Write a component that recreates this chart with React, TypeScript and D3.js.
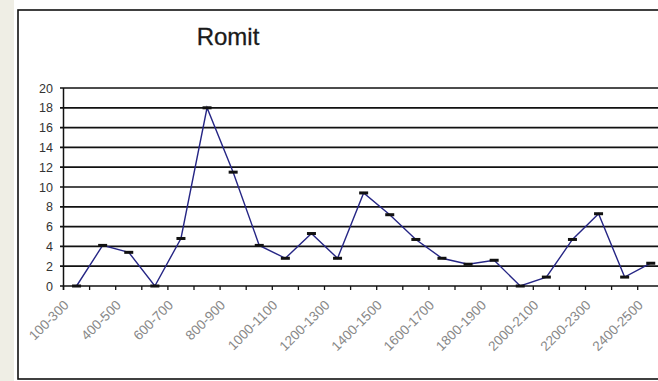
import React from "react";
import * as d3 from "d3";

const categories = [
  "100-300", "300-400", "400-500", "500-600", "600-700", "700-800", "800-900",
  "900-1000", "1000-1100", "1100-1200", "1200-1300", "1300-1400", "1400-1500",
  "1500-1600", "1600-1700", "1700-1800", "1800-1900", "1900-2000", "2000-2100",
  "2100-2200", "2200-2300", "2300-2400", "2400-2500",
];
const values = [0, 4.1, 3.4, 0, 4.8, 18, 11.5, 4.1, 2.8, 5.3, 2.8, 9.4, 7.2, 4.7, 2.8, 2.2, 2.6, 0, 0.9, 4.7, 7.3, 0.9, 2.3];
const yTicks = [0, 2, 4, 6, 8, 10, 12, 14, 16, 18, 20];
const title = "Romit";

const W = 658;
const H = 381;

export default function App() {
  const x = d3.scaleBand<string>().domain(categories).range([63.5, 63.5 + 26.1 * categories.length]);
  const y = d3.scaleLinear().domain([0, 20]).range([286, 88]);
  const cx = (c: string) => (x(c) as number) + x.bandwidth() / 2;
  const line = d3
    .line<number>()
    .x((_, i) => cx(categories[i]))
    .y((d) => y(d));
  const boundaries = d3.range(categories.length + 1).map((i) => 63.5 + i * x.step());
  const font = "Arial, 'Liberation Sans', sans-serif";

  return (
    <svg width={W} height={H} style={{ position: "absolute", left: 0, top: 0, background: "#fff" }}>
      <rect x={0} y={0} width={14} height={H} fill="#efeee5" />
      <rect x={18} y={10} width={W + 20} height={369} fill="#fff" stroke="#111" strokeWidth={1.6} />
      <text x={228} y={45} textAnchor="middle" fontFamily={font} fontSize={24} fill="#1a1a1a" stroke="#1a1a1a" strokeWidth={0.3}>
        {title}
      </text>
      {yTicks.map((t) => (
        <g key={t}>
          <line x1={60} x2={W} y1={y(t)} y2={y(t)} stroke="#111" strokeWidth={1.7} />
          <text x={53} y={y(t) + 4.5} textAnchor="end" fontFamily={font} fontSize={12.5} fill="#333">
            {t}
          </text>
        </g>
      ))}
      <line x1={63.5} x2={63.5} y1={y(20)} y2={y(0) + 4} stroke="#111" strokeWidth={1.5} />
      {boundaries.map((b, i) => (
        <line key={i} x1={b} x2={b} y1={y(0)} y2={y(0) + 4} stroke="#111" strokeWidth={1.3} />
      ))}
      <path d={line(values) || ""} fill="none" stroke="#262685" strokeWidth={1.4} />
      {values.map((v, i) => (
        <rect key={i} x={cx(categories[i]) - 4.5} y={y(v) - 1.5} width={9} height={3} fill="#111" />
      ))}
      {categories.map((c, i) =>
        i % 2 === 0 ? (
          <text
            key={c}
            transform={`translate(${cx(c) - 7},${y(0) + 20}) rotate(-45)`}
            textAnchor="end"
            fontFamily={font}
            fontSize={13.5}
            fill="#888"
          >
            {c}
          </text>
        ) : null
      )}
    </svg>
  );
}
